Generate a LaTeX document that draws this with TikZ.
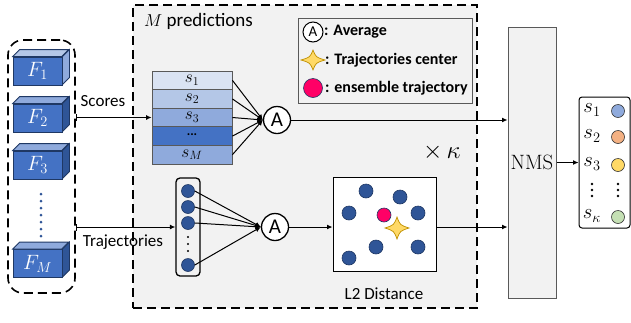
\documentclass[tikz,border=0pt]{standalone}
\usepackage[no-math]{fontspec}
\setmainfont{Carlito}
\usetikzlibrary{arrows.meta}
\definecolor{bgray}{HTML}{F2F2F2}
\definecolor{cubeblue}{HTML}{4472C4}
\definecolor{cubetopc}{HTML}{8FAADC}
\definecolor{cubeside}{HTML}{2F5597}
\definecolor{cubeedge}{HTML}{1F3864}
\definecolor{rowa}{HTML}{DAE3F3}
\definecolor{rowb}{HTML}{B4C7E7}
\definecolor{rowc}{HTML}{8FAADC}
\definecolor{rowd}{HTML}{4472C4}
\definecolor{dotblue}{HTML}{2F5597}
\definecolor{dotedge}{HTML}{1F3864}
\definecolor{pinkc}{HTML}{FF0066}
\definecolor{staryellow}{HTML}{FFD966}
\definecolor{staredge}{HTML}{BF9000}
\definecolor{oblue}{HTML}{8FAADC}
\definecolor{oorange}{HTML}{F4B183}
\definecolor{oyellow}{HTML}{FFD966}
\definecolor{ogreen}{HTML}{C5E0B4}
\definecolor{boxedge}{HTML}{595959}
\begin{document}
\begin{tikzpicture}[x=1pt,y=-1pt,
  conn/.style={line width=1pt},
  tipped/.style={line width=1pt,-{Latex[length=5.5pt,width=5pt]}},
  barred/.style={line width=1pt,{Bar[width=7pt,line width=1pt]}-{Latex[length=5.5pt,width=5pt]}},
  dashbox/.style={draw=black, line width=1.6pt, dash pattern=on 9pt off 5pt},
  cubefront/.style={draw=cubeedge, fill=cubeblue, line width=0.8pt, minimum width=49pt, minimum height=28pt, inner sep=0pt, text=white, font=\fontsize{20}{22}\selectfont},
  cubetop/.style={draw=cubeedge, fill=cubetopc, line width=0.8pt},
  cubesidef/.style={draw=cubeedge, fill=cubeside, line width=0.8pt},
  scorerow/.style={draw=boxedge, line width=0.8pt, minimum width=80pt, minimum height=18.6pt, inner sep=0pt},
  rowtxt/.style={inner sep=0pt, font=\fontsize{18}{18}\selectfont},
  avg/.style={circle, draw=black, fill=white, line width=1.3pt, minimum size=27pt, inner sep=0pt, font=\fontsize{21}{23}\selectfont},
  dotb/.style={circle, draw=dotedge, fill=dotblue, minimum size=14pt, inner sep=0pt, line width=0.6pt},
  odot/.style={circle, draw=black!80, minimum size=13pt, inner sep=0pt, line width=0.6pt},
  lbl/.style={font=\fontsize{17}{19}\selectfont},
  legtxt/.style={font=\bfseries\fontsize{16}{18}\selectfont, anchor=west, inner sep=0pt},
  mathlbl/.style={font=\fontsize{20}{22}\selectfont, inner sep=0pt},
  sparkle/.pic={\draw[fill=staryellow, draw=staredge, line width=0.7pt]
     (12,0) .. controls (3,-3) .. (0,-11) .. controls (-3,-3) .. (-12,0)
     .. controls (-3,3) .. (0,11) .. controls (3,3) .. (12,0) -- cycle;}
]
\useasboundingbox (0,0) rectangle (631,322);

% ---------------- main dashed region ----------------
\node[dashbox, fill=bgray, minimum width=344pt, minimum height=303pt, inner sep=0pt] (main) at (305,156.5) {};
\node[anchor=west, inner sep=0pt, font=\fontsize{19}{21}\selectfont] (mpred) at (144,21) {$M$ predictions};

% ---------------- left feature column ----------------
\node[dashbox, rounded corners=15pt, minimum width=67pt, minimum height=253pt, inner sep=0pt] (feat) at (41.5,166.5) {};
\foreach \n/\y/\lab in {1/71/F_1, 2/118/F_2, 3/165/F_3, M/263.5/F_M}{
  \node[cubefront] (f\n) at (37.5,\y) {$\lab$};
}
\draw[cubetop, fill=rowb] (f1.north west) -- ++(7,-7) -- ++(49,0) -- ++(-7,7) -- cycle;
\draw[cubesidef, fill=rowc] (f1.north east) -- ++(7,-7) -- ++(0,28) -- ++(-7,7) -- cycle;
\foreach \n in {2,3,M}{
  \draw[cubetop] (f\n.north west) -- ++(7,-7) -- ++(49,0) -- ++(-7,7) -- cycle;
  \draw[cubesidef] (f\n.north east) -- ++(7,-7) -- ++(0,28) -- ++(-7,7) -- cycle;
}
\foreach \k in {0,...,6}{
  \fill[dotblue] (41,{194+\k*7}) circle (1.5);
}

% ---------------- score table ----------------
\node[scorerow, fill=rowa] (r1) at (192,80.3) {};
\node[scorerow, fill=rowb] (r2) at (192,98.9) {};
\node[scorerow, fill=rowc] (r3) at (192,117.5) {};
\node[scorerow, fill=rowd] (r4) at (192,136.1) {};
\node[scorerow, fill=rowc] (r5) at (192,154.7) {};
\node[rowtxt] (t1) at (r1.center) {$s_1$};
\node[rowtxt] (t2) at (r2.center) {$s_2$};
\node[rowtxt] (t3) at (r3.center) {$s_3$};
\node[rowtxt, font=\bfseries\fontsize{13}{13}\selectfont] (t4) at (192,134.5) {...};
\node[rowtxt] (t5) at (r5.center) {$s_M$};
\node[avg] (A1) at (277,120) {A};
\foreach \r in {1,...,5}{
  \draw[tipped] (r\r.east) -- (A1.west);
}
\node[lbl] (scores) at (103,101) {Scores};
\draw[barred] (feat.east |- r3.west) -- (r3.west);

% ---------------- trajectory column ----------------
\node[draw=black, line width=1.3pt, rounded corners=4pt, minimum width=24pt, minimum height=98pt, inner sep=0pt] (col) at (188,227) {};
\node[dotb, minimum size=13pt] (c1) at (188,191) {};
\node[dotb, minimum size=13pt] (c2) at (188,207) {};
\node[dotb, minimum size=13pt] (c3) at (188,223) {};
\node[dotb, minimum size=13pt] (c4) at (188,265) {};
\foreach \k in {0,1,2}{
  \fill[black] (188,{237+\k*7}) circle (1.2);
}
\node[avg] (A2) at (275,227) {A};
\foreach \c in {1,...,4}{
  \draw[tipped] (c\c.east) -- (A2.west);
}
\node[lbl] (traj) at (123,242) {Trajectories};
\draw[barred] (feat.east |- A2.west) -- (col.west |- A2.west);

% ---------------- L2 distance box ----------------
\node[draw=black, fill=white, line width=1pt, minimum width=103pt, minimum height=94pt, inner sep=0pt] (l2) at (384.5,224) {};
\node[dotb] (p1) at (366,191) {};
\node[dotb] (p2) at (400,197) {};
\node[dotb] (p3) at (349,213) {};
\node[dotb] (p4) at (418,213) {};
\node[dotb] (p5) at (376,247) {};
\node[dotb] (p6) at (418,247) {};
\node[dotb] (p7) at (349,258) {};
\node[circle, draw=dotedge, fill=pinkc, minimum size=14pt, inner sep=0pt, line width=0.6pt] (pk) at (384,215) {};
\pic (cstar) at (397,228) {sparkle};
\node[lbl] (l2lab) at (384,294) {L2 Distance};
\draw[tipped] (A2.east) -- (l2.west |- A2.east);

% ---------------- times kappa ----------------
\node[inner sep=0pt, font=\fontsize{28}{30}\selectfont] (kap) at (442,152) {$\times\,\kappa$};

% ---------------- legend ----------------
\node[draw=boxedge, fill=bgray, line width=1pt, minimum width=174pt, minimum height=85pt, inner sep=0pt] (leg) at (385,60.5) {};
\node[circle, draw=black, fill=white, line width=1pt, minimum size=20pt, inner sep=0pt, font=\fontsize{15}{16}\selectfont] (legA) at (313,32) {A};
\node[legtxt] (legAt) at (324,32) {: Average};
\pic[yscale=0.9] (legstar) at (313,60) {sparkle};
\node[legtxt] (legSt) at (325,60) {: Trajectories center};
\node[circle, draw=dotedge, fill=pinkc, minimum size=19pt, inner sep=0pt, line width=0.6pt] (legP) at (313,88) {};
\node[legtxt] (legPt) at (325,88) {: ensemble trajectory};

% ---------------- NMS ----------------
\node[draw=boxedge, fill=bgray, line width=1pt, minimum width=48pt, minimum height=271pt, inner sep=0pt, font=\fontsize{20}{22}\selectfont] (nms) at (532,162.5) {$\mathrm{NMS}$};
\draw[tipped] (A1.east) -- (A1.east -| nms.west);
\draw[tipped] (l2.east |- A2.east) -- (nms.west |- A2.east);

% ---------------- output ----------------
\node[draw=black, fill=white, line width=1pt, rounded corners=3pt, minimum width=51pt, minimum height=131pt, inner sep=0pt] (out) at (604.5,162.5) {};
\draw[tipped] (nms.east) -- (out.west);
\node[mathlbl] (o1) at (592,110) {$s_1$};
\node[mathlbl] (o2) at (592,136) {$s_2$};
\node[mathlbl] (o3) at (592,164) {$s_3$};
\node[mathlbl] (o4) at (592,216) {$s_\kappa$};
\node[odot, fill=oblue] (q1) at (618,111) {};
\node[odot, fill=oorange] (q2) at (618,137) {};
\node[odot, fill=oyellow] (q3) at (618,165) {};
\node[odot, fill=ogreen] (q4) at (618,217) {};
\foreach \xx in {592,618}{
  \foreach \k in {0,1,2}{
    \fill[black] (\xx,{184+\k*6}) circle (1.3);
  }
}
\end{tikzpicture}
\end{document}
